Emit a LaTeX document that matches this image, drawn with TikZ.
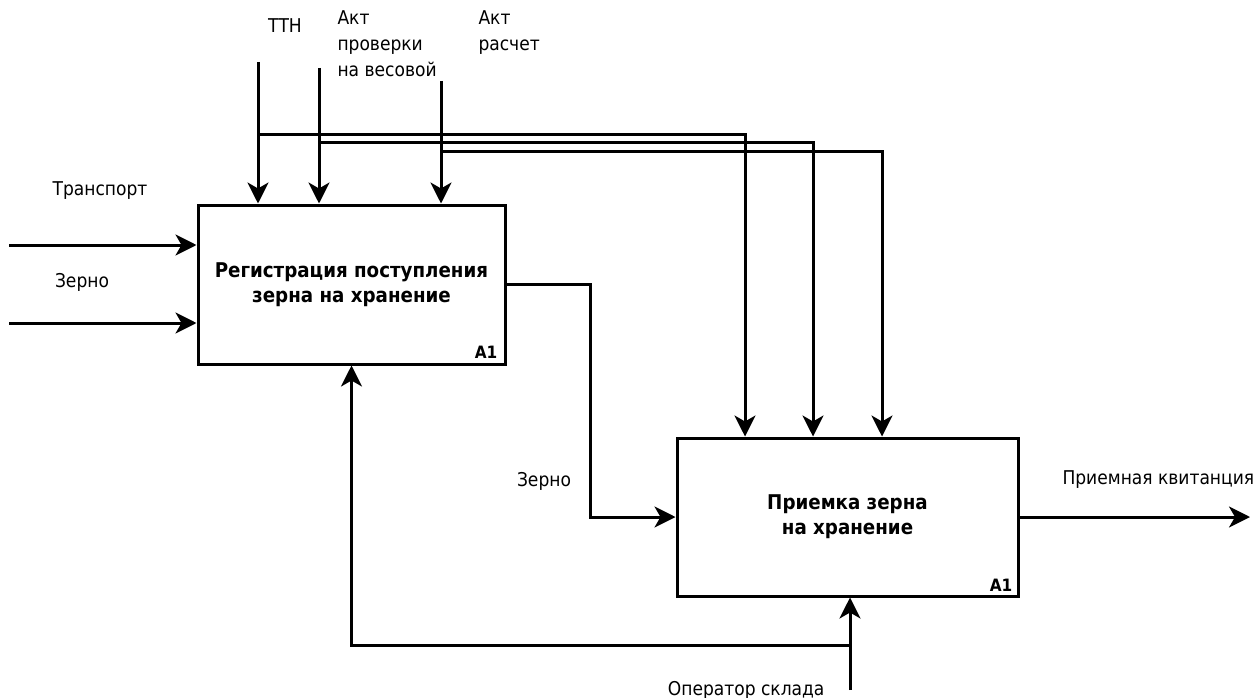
\documentclass[tikz,border=0pt]{standalone}
\usepackage{fontspec}
\IfFontExistsTF{DejaVu Sans Condensed}
  {\setmainfont{DejaVu Sans Condensed}}
  {\setmainfont{DejaVu Sans}[FakeStretch=0.9]}
\usetikzlibrary{arrows.meta}

\begin{document}
\begin{tikzpicture}[x=1pt, y=-1pt, line width=3pt,
  arr/.style={-{Stealth[length=21pt, width=21pt, inset=6pt]}},
  lbl/.style={font=\fontsize{19pt}{26pt}\selectfont, inner sep=0pt},
  box/.style={draw, rectangle, align=center, inner sep=0pt,
    font=\bfseries\fontsize{20.3pt}{25pt}\selectfont},
  tag/.style={font=\bfseries\fontsize{17pt}{17pt}\selectfont, inner sep=0pt}]

\useasboundingbox (0,0) rectangle (1257,698);

% function boxes
\node[box, minimum width=307pt, minimum height=159pt] (box1) at (351.5,284.5)
  {Регистрация поступления\\зерна на хранение};
\node[box, minimum width=341pt, minimum height=158pt] (box2) at (847.5,517)
  {Приемка зерна\\на хранение};
\node[tag] (n1) at (486,352) {A1};
\node[tag] (n2) at (1001,585) {A1};

% controls of the first function
\coordinate (tT) at (258,62);
\coordinate (tP) at (319,68);
\coordinate (tR) at (441,81);
\draw[arr] (tT) -- (tT |- box1.north);
\draw[arr] (tP) -- (tP |- box1.north);
\draw[arr] (tR) -- (tR |- box1.north);

% the same documents passed on to the second function
\coordinate (jT) at (258,134);
\coordinate (jP) at (319,142);
\coordinate (jR) at (441,151);
\coordinate (xT) at (745,0);
\coordinate (xP) at (813,0);
\coordinate (xR) at (882,0);
\draw[arr] (jT) -| (xT |- box2.north);
\draw[arr] (jP) -| (xP |- box2.north);
\draw[arr] (jR) -| (xR |- box2.north);

% inputs
\coordinate (iT) at (9,245);
\coordinate (iZ) at (9,323);
\draw[arr] (iT) -- (iT -| box1.west);
\draw[arr] (iZ) -- (iZ -| box1.west);

% grain from the first function into the second
\coordinate (k) at (590,400);
\draw[arr] (box1.east) -| (k) |- (box2.west);

% output
\coordinate (oQ) at (1250,0);
\draw[arr] (box2.east) -- (oQ |- box2.east);

% mechanism
\coordinate (mO) at (850,690);
\coordinate (mJ) at (850,645);
\draw[arr] (mO) -- (mO |- box2.south);
\draw[arr] (mJ) -| (box1.south);

% labels (multi-line ones are placed by the baseline of their last line)
\node[lbl, anchor=base] (lT) at (285,33) {ТТН};
\node[lbl, anchor=base west, align=left] (lP) at (336,77) {Акт\\проверки\\на весовой};
\node[lbl, anchor=base west, align=left] (lR) at (477,51) {Акт\\расчет};
\node[lbl, anchor=base] (lTr) at (100,195) {Транспорт};
\node[lbl, anchor=base] (lZ1) at (82,287) {Зерно};
\node[lbl, anchor=base] (lZ2) at (544,486) {Зерно};
\node[lbl, anchor=base west] (lQ) at (1061,484) {Приемная квитанция};
\node[lbl, anchor=base east] (lO) at (826,695) {Оператор склада};
\end{tikzpicture}
\end{document}
